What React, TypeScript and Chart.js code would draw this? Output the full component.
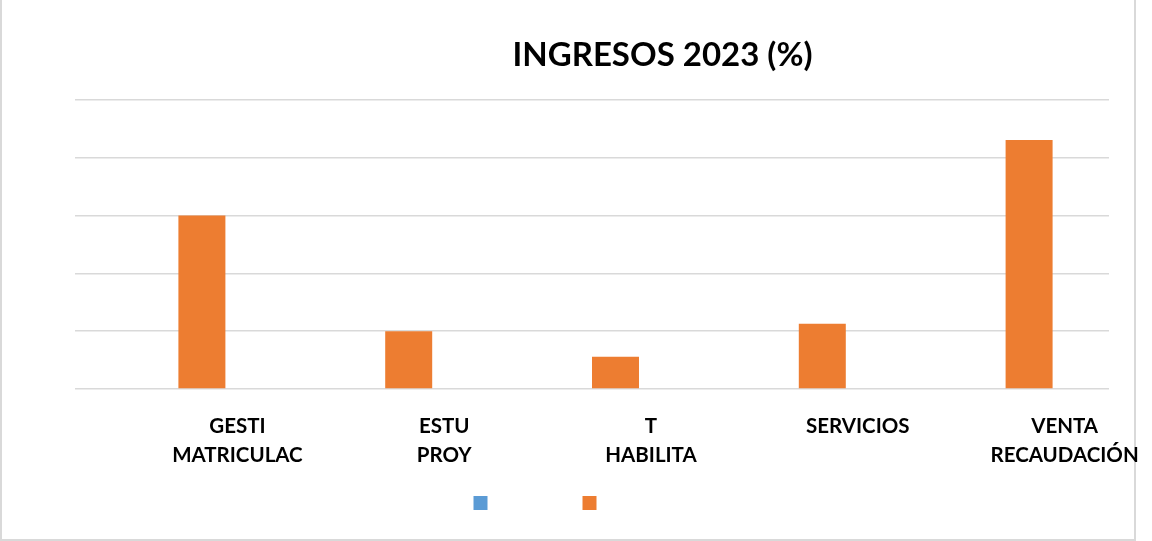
import React, { useEffect, useRef } from "react";
import { Chart, registerables } from "chart.js";

Chart.register(...registerables);

const TITLE = "INGRESOS 2023 (%)";
const categories: (string | string[])[] = [
  ["GESTI", "MATRICULAC"],
  ["ESTU", "PROY"],
  ["T", "HABILITA"],
  "SERVICIOS",
  ["VENTA", "RECAUDACIÓN"],
];
const series1Label = "";
const series1Values: (number | null)[] = [null, null, null, null, null];
const series2Label = "";
const series2Values: number[] = [30, 10, 5.6, 11.3, 43.1];
const yMin = 0;
const yMax = 50;
const yStep = 10;

const titlePlugin = {
  id: "offsetTitle",
  afterDraw(chart: any, _args: any, opts: any) {
    const { ctx, chartArea } = chart;
    ctx.save();
    ctx.font = opts.font;
    ctx.fillStyle = opts.color;
    ctx.textAlign = "center";
    ctx.textBaseline = "alphabetic";
    const cx = (chartArea.left + chartArea.right) / 2 + opts.offsetX;
    ctx.fillText(opts.text, cx, opts.y);
    ctx.restore();
  },
};

export default function App() {
  const ref = useRef<HTMLCanvasElement | null>(null);
  useEffect(() => {
    if (!ref.current) return;
    const chart = new Chart(ref.current, {
      type: "bar",
      data: {
        labels: categories,
        datasets: [
          {
            label: series1Label,
            data: series1Values,
            backgroundColor: "#5B9BD5",
            categoryPercentage: 0.4545,
            barPercentage: 1,
          },
          {
            label: series2Label,
            data: series2Values,
            backgroundColor: "#ED7D31",
            categoryPercentage: 0.4545,
            barPercentage: 1,
          },
        ],
      },
      plugins: [titlePlugin],
      options: {
        animation: false,
        responsive: false,
        maintainAspectRatio: false,
        layout: { padding: { top: 100, left: 0, right: 43, bottom: 21 } },
        scales: {
          x: {
            grid: { display: false, drawTicks: false },
            border: { display: false },
            ticks: {
              color: "#000000",
              font: { family: "Lato", weight: "bold", size: 20.5, lineHeight: "29px" },
              mirror: true,
              padding: -52,
              labelOffset: 59,
              maxRotation: 0,
              minRotation: 0,
              autoSkip: false,
            },
            afterFit: (axis: any) => {
              axis.height = 18;
            },
          },
          y: {
            min: yMin,
            max: yMax,
            ticks: { display: false, stepSize: yStep },
            grid: { color: "#D9D9D9", lineWidth: 1.5, drawTicks: false },
            border: { display: false },
            afterFit: (axis: any) => {
              axis.width = 108;
            },
          },
        },
        plugins: {
          title: { display: false },
          tooltip: { enabled: false },
          legend: {
            display: true,
            position: "bottom",
            labels: {
              boxWidth: 14,
              boxHeight: 14,
              padding: 89,
              font: { size: 12, family: "Lato" },
            },
          },
          offsetTitle: {
            text: TITLE,
            font: "bold 33px Lato",
            color: "#000000",
            offsetX: 70.5,
            y: 65.5,
          },
        } as any,
      },
    });
    return () => chart.destroy();
  }, []);

  return (
    <div
      style={{
        position: "fixed",
        left: 0,
        top: 0,
        width: 1152,
        height: 541,
        overflow: "hidden",
        background: "#ffffff",
      }}
    >
      <div
        style={{
          position: "absolute",
          left: 0,
          top: -2,
          width: 1136,
          height: 543,
          boxSizing: "border-box",
          border: "2px solid #D9D9D9",
        }}
      />
      <canvas
        ref={ref}
        width={1185}
        height={541}
        style={{ position: "absolute", left: -33, top: 0, width: 1185, height: 541 }}
      />
    </div>
  );
}
